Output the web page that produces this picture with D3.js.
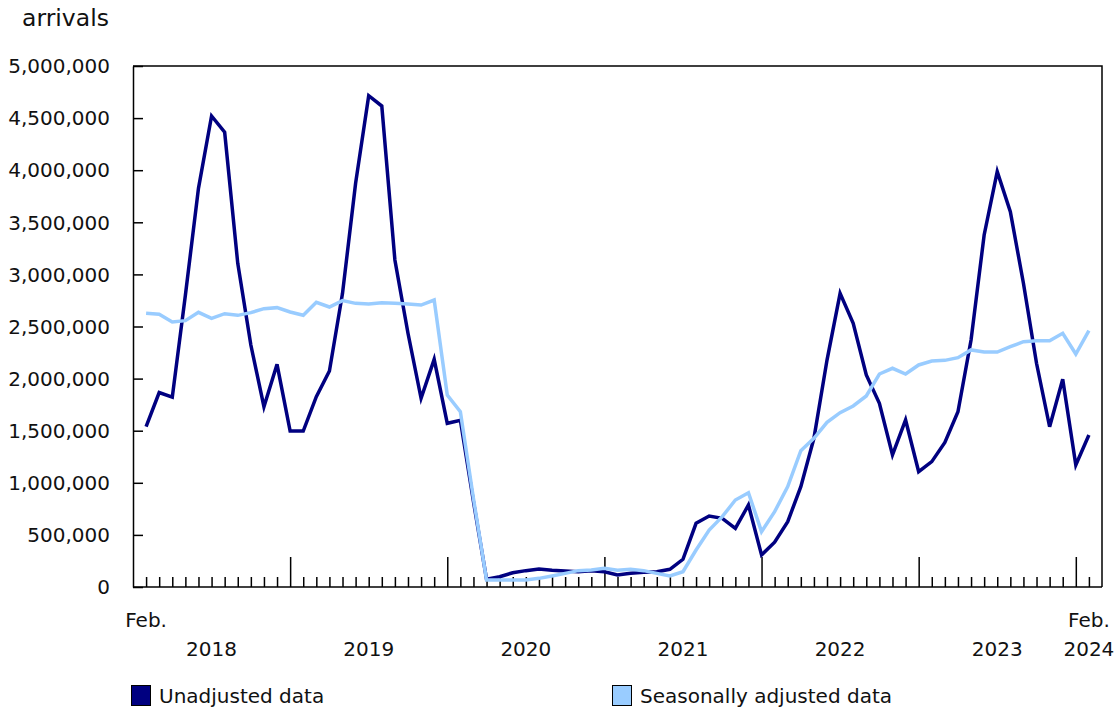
<!DOCTYPE html>
<html>
<head>
<meta charset="utf-8">
<script src="https://cdn.jsdelivr.net/npm/d3@7"></script>
<style>
  html, body { margin: 0; padding: 0; background: #ffffff; }
  svg text { font-family: "DejaVu Sans", Verdana, sans-serif; fill: #111; }
</style>
</head>
<body>
<svg id="chart" width="1118" height="712"></svg>
<script>
const months = [
  "2018-02","2018-03","2018-04","2018-05","2018-06","2018-07","2018-08","2018-09","2018-10","2018-11","2018-12",
  "2019-01","2019-02","2019-03","2019-04","2019-05","2019-06","2019-07","2019-08","2019-09","2019-10","2019-11","2019-12",
  "2020-01","2020-02","2020-03","2020-04","2020-05","2020-06","2020-07","2020-08","2020-09","2020-10","2020-11","2020-12",
  "2021-01","2021-02","2021-03","2021-04","2021-05","2021-06","2021-07","2021-08","2021-09","2021-10","2021-11","2021-12",
  "2022-01","2022-02","2022-03","2022-04","2022-05","2022-06","2022-07","2022-08","2022-09","2022-10","2022-11","2022-12",
  "2023-01","2023-02","2023-03","2023-04","2023-05","2023-06","2023-07","2023-08","2023-09","2023-10","2023-11","2023-12",
  "2024-01","2024-02"
];

const unadjusted = [
  1538000, 1866000, 1822000, 2800000, 3826000, 4520000, 4364000, 3106000, 2322000, 1730000, 2137000,
  1497000, 1497000, 1826000, 2073000, 2818000, 3874000, 4715000, 4616000, 3138000, 2435000, 1811000, 2185000,
  1571000, 1600000, 820000, 75000, 99000, 137000, 157000, 173000, 160000, 154000, 147000, 157000, 147000,
  115000, 131000, 141000, 147000, 170000, 266000, 611000, 681000, 659000, 563000, 787000,
  307000, 430000, 627000, 963000, 1427000, 2178000, 2818000, 2531000, 2035000, 1763000, 1267000, 1603000,
  1107000, 1203000, 1387000, 1682000, 2370000, 3378000, 3986000, 3602000, 2915000, 2147000, 1538000, 1993000,
  1171000, 1459000
];

const seasonallyAdjusted = [
  2627000, 2617000, 2543000, 2556000, 2636000, 2578000, 2623000, 2607000, 2633000, 2671000, 2681000,
  2639000, 2608000, 2732000, 2687000, 2748000, 2722000, 2716000, 2729000, 2722000, 2716000, 2706000, 2754000,
  1843000, 1682000, 850000, 67000, 67000, 67000, 67000, 83000, 106000, 131000, 157000, 163000, 179000,
  160000, 170000, 157000, 131000, 106000, 147000, 355000, 547000, 675000, 835000, 905000,
  531000, 723000, 963000, 1308000, 1427000, 1580000, 1673000, 1737000, 1833000, 2044000, 2099000, 2044000,
  2131000, 2169000, 2175000, 2201000, 2275000, 2255000, 2255000, 2306000, 2354000, 2364000, 2364000, 2435000,
  2236000, 2460000
];

const yTicks = [0, 500000, 1000000, 1500000, 2000000, 2500000, 3000000, 3500000, 4000000, 4500000, 5000000];
const seriesNames = ["Unadjusted data", "Seasonally adjusted data"];
const seriesColors = ["#000080", "#99ccff"];

const svg = d3.select("#chart");
const mLeft = 133, mRight = 1102, mTop = 66, mBottom = 587;

const x = d3.scalePoint().domain(months).range([mLeft, mRight]).padding(1);
const y = d3.scaleLinear().domain([0, 5000000]).range([mBottom, mTop]);
const fmt = d3.format(",");

// Frame (top and right borders)
svg.append("path")
  .attr("d", `M${mLeft},${mTop}H${mRight}V${mBottom}`)
  .attr("fill", "none").attr("stroke", "#000").attr("stroke-width", 1.5);

// Y axis
const yAxis = svg.append("g").attr("transform", `translate(${mLeft},0)`)
  .call(d3.axisRight(y).tickValues(yTicks).tickSize(10).tickSizeOuter(0).tickFormat(""));
yAxis.select(".domain").attr("stroke", "#000").attr("stroke-width", 1.5);
yAxis.selectAll(".tick line").attr("stroke", "#000").attr("stroke-width", 1.5);

svg.append("g").selectAll("text").data(yTicks).join("text")
  .attr("x", 110).attr("y", d => y(d)).attr("dy", "0.36em")
  .attr("text-anchor", "end").attr("font-size", 20)
  .text(d => fmt(d));

svg.append("text").attr("x", 22).attr("y", 26).attr("font-size", 23.5).text("arrivals");

// X axis
const xAxis = svg.append("g").attr("transform", `translate(0,${mBottom})`)
  .call(d3.axisTop(x).tickSize(10).tickFormat("").tickSizeOuter(0));
xAxis.select(".domain").attr("d", `M${mLeft},0H${mRight}`).attr("stroke", "#000").attr("stroke-width", 1.5);
xAxis.selectAll(".tick line").attr("stroke", "#000").attr("stroke-width", 1.5)
  .attr("y2", d => d.endsWith("-01") ? -30 : -10);

const yearLabels = months.filter(m => m.endsWith("-07") || m === months[months.length - 1]);
svg.append("g").selectAll("text").data(yearLabels).join("text")
  .attr("x", d => x(d)).attr("y", 656).attr("text-anchor", "middle").attr("font-size", 20)
  .text(d => d.slice(0, 4));

svg.append("g").selectAll("text").data([months[0], months[months.length - 1]]).join("text")
  .attr("x", d => x(d)).attr("y", 627).attr("text-anchor", "middle").attr("font-size", 20)
  .text("Feb.");

// Lines
const line = d3.line().x((d, i) => x(months[i])).y(d => y(d));
[unadjusted, seasonallyAdjusted].forEach((s, k) => {
  svg.append("path").datum(s).attr("d", line)
    .attr("fill", "none").attr("stroke", seriesColors[k])
    .attr("stroke-width", 3.5).attr("stroke-linejoin", "miter");
});

// Legend
const legendX = [131, 612];
const lg = svg.append("g").selectAll("g").data(seriesNames).join("g")
  .attr("transform", (d, i) => `translate(${legendX[i]},685)`);
lg.append("rect").attr("x", 0.5).attr("y", 0.5).attr("width", 19).attr("height", 20)
  .attr("fill", (d, i) => seriesColors[i]).attr("stroke", "#000").attr("stroke-width", 1);
lg.append("text").attr("x", 28).attr("y", 18).attr("font-size", 20).text(d => d);
</script>
</body>
</html>
